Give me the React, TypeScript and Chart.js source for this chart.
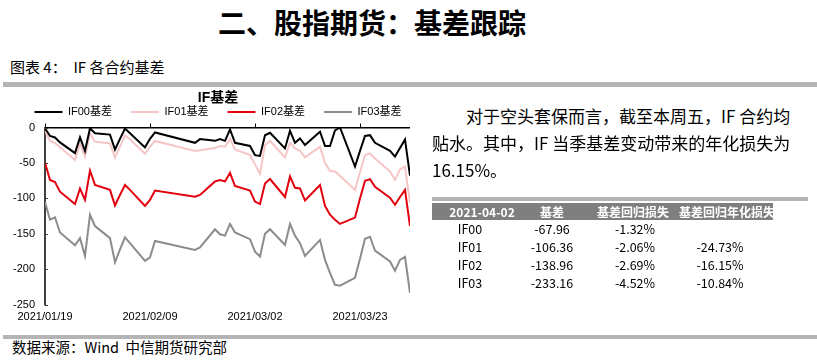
import React, { useEffect, useRef } from "react";
import { Chart, registerables } from "chart.js";

Chart.register(...registerables);

// ---------- data ----------
const DATES = [
  "2021/01/19", "2021/01/20", "2021/01/21", "2021/01/22", "2021/01/25", "2021/01/26", "2021/01/27", "2021/01/28", "2021/01/29",
  "2021/02/01", "2021/02/02", "2021/02/03", "2021/02/04", "2021/02/05", "2021/02/08", "2021/02/09", "2021/02/10",
  "2021/02/18", "2021/02/19", "2021/02/22", "2021/02/23", "2021/02/24", "2021/02/25", "2021/02/26",
  "2021/03/01", "2021/03/02", "2021/03/03", "2021/03/04", "2021/03/05",
  "2021/03/08", "2021/03/09", "2021/03/10", "2021/03/11", "2021/03/12",
  "2021/03/15", "2021/03/16", "2021/03/17", "2021/03/18", "2021/03/19",
  "2021/03/22", "2021/03/23", "2021/03/24", "2021/03/25", "2021/03/26",
  "2021/03/29", "2021/03/30", "2021/03/31",
  "2021/04/01", "2021/04/02",
];

const IF00 = [
  -1, -12, -14, -21, -36, -14, -33, -1, -8,
  -10, -31, -16, -1.5, -8, -28, -16, -7,
  -21.6, -16.4, -18.8, -16.4, -18.8, -2.8, -21.6,
  -26, -39, -40, -11, -7.5,
  -29.5, -4.7, -21.6, -15.5, -24.8,
  -6, -26, -26, -4, 0,
  -55, -33, -12, -10.8, -21.6,
  -33, -41, -29,
  -17, -67.96,
];

const IF01 = [
  -5, -19, -22, -28, -46, -23, -41, -8.5, -20,
  -22.5, -42, -27, -11, -17, -37, -27, -19,
  -33, -32, -29, -26, -27, -16, -31,
  -39, -52, -65.6, -25, -19,
  -42, -21.6, -29.5, -33, -42,
  -27, -50, -61, -62, -68,
  -88, -63, -39, -36.6, -43.6,
  -62, -74, -59,
  -55, -106.36,
];

const IF02 = [
  -49.5, -74, -77, -90.5, -108, -86, -102, -61, -81,
  -88, -110, -95, -81, -88, -110.6, -102, -89,
  -97.5, -95, -76, -74, -76, -64, -82.5,
  -89, -104.5, -108, -79, -72.7,
  -98, -69, -85, -86, -103,
  -81, -110.6, -123, -130, -136,
  -127, -100, -75, -73, -83.5,
  -99, -109, -98,
  -88, -138.96,
];

const IF03 = [
  -105, -130, -126.6, -148, -166, -156, -181, -123, -139,
  -156, -190, -172, -155, -163, -188, -183, -160,
  -172.6, -169, -143.5, -150.5, -152.5, -136, -148,
  -157.5, -175, -182, -150, -143.5,
  -165.5, -136, -152.5, -163, -181,
  -158.5, -186.6, -205, -221.8, -223,
  -212, -185, -157, -154, -173.6,
  -189, -202, -186.6,
  -182.5, -233.16,
];

const SERIES_NAMES = ["IF00基差", "IF01基差", "IF02基差", "IF03基差"];
const SERIES_COLORS = ["#000000", "#f6c6c6", "#e3000f", "#8c8c8c"];
const X_TICK_LABELS = ["2021/01/19", "2021/02/09", "2021/03/02", "2021/03/23"];
const Y_MIN = -250;
const Y_MAX = 0;
const Y_STEP = 50;

const CHART_TITLE = "IF基差";
const PAGE_TITLE = "二、股指期货：基差跟踪";
const FIG_TITLE = "图表 4：  IF 各合约基差";
const SOURCE = "数据来源：Wind  中信期货研究部";
const PARAGRAPH = [
  "对于空头套保而言，截至本周五，IF 合约均",
  "贴水。其中，IF 当季基差变动带来的年化损失为",
  "16.15%。",
];

const TABLE_HEAD = ["2021-04-02", "基差", "基差回归损失", "基差回归年化损失"];
const TABLE_CONTRACTS = ["IF00", "IF01", "IF02", "IF03"];
const TABLE_BASIS = ["-67.96", "-106.36", "-138.96", "-233.16"];
const TABLE_LOSS = ["-1.32%", "-2.06%", "-2.69%", "-4.52%"];
const TABLE_ANNUAL = ["", "-24.73%", "-16.15%", "-10.84%"];

// ---------- helpers ----------
const toUTC = (s: string) => {
  const [y, m, d] = s.split("/").map(Number);
  return Date.UTC(y, m - 1, d);
};
const BASE = toUTC(DATES[0]);
const toDay = (s: string) => (toUTC(s) - BASE) / 86400000;

const FONT_LATIN = '"Liberation Sans", Arial, "Noto Sans CJK SC", sans-serif';
const FONT_CJK = '"Noto Sans CJK SC", "Liberation Sans", sans-serif';

const CANVAS_W = 436;

const tickMarks = {
  id: "tickMarks",
  afterDraw(chart: any) {
    const { ctx, chartArea, scales } = chart;
    const x = scales.x;
    const y = scales.y;
    ctx.save();
    ctx.strokeStyle = "#000";
    ctx.lineWidth = 1;
    x.ticks.forEach((t: any) => {
      const px = Math.round(x.getPixelForValue(t.value)) + 0.5;
      ctx.beginPath();
      ctx.moveTo(px, chartArea.top - 4);
      ctx.lineTo(px, chartArea.top);
      ctx.stroke();
    });
    ctx.strokeStyle = "#404040";
    y.ticks.forEach((t: any) => {
      const py = Math.round(y.getPixelForValue(t.value)) + 0.5;
      ctx.beginPath();
      ctx.moveTo(chartArea.left, py);
      ctx.lineTo(chartArea.left + 3, py);
      ctx.stroke();
    });
    ctx.restore();
  },
};

function BasisChart() {
  const ref = useRef<HTMLCanvasElement | null>(null);
  useEffect(() => {
    if (!ref.current) return;
    const series = [IF00, IF01, IF02, IF03];
    const xs = DATES.map(toDay);
    const tickValues = X_TICK_LABELS.map(toDay);
    const chart = new Chart(ref.current, {
      type: "line",
      data: {
        datasets: series.map((vals, i) => ({
          label: SERIES_NAMES[i],
          data: vals.map((v, j) => ({ x: xs[j], y: v })),
          borderColor: SERIES_COLORS[i],
          backgroundColor: SERIES_COLORS[i],
          borderWidth: 2,
          pointRadius: 0,
          tension: 0,
          fill: false,
          yAxisID: "y",
        })),
      },
      options: {
        animation: false,
        responsive: false,
        devicePixelRatio: 1,
        layout: { padding: 0 },
        plugins: {
          title: {
            display: true,
            text: CHART_TITLE,
            color: "#000",
            font: { family: FONT_LATIN, size: 14, weight: "bold" },
            padding: { top: 4.3, bottom: -18.6 },
          },
          legend: {
            display: true,
            position: "top",
            labels: {
              usePointStyle: true,
              pointStyle: "line",
              pointStyleWidth: 28,
              padding: 19,
              color: "#000",
              font: { family: FONT_LATIN, size: 11 },
            },
          },
          tooltip: { enabled: false },
        },
        scales: {
          x: {
            type: "linear",
            min: 0,
            max: toDay(DATES[DATES.length - 1]),
            grid: { display: false, drawTicks: false },
            border: { display: false },
            afterBuildTicks: (scale: any) => {
              scale.ticks = tickValues.map((v) => ({ value: v }));
            },
            ticks: {
              padding: 6,
              maxRotation: 0,
              autoSkip: false,
              color: "#000",
              font: { family: FONT_LATIN, size: 11 },
              callback: (value: any) => {
                const idx = tickValues.indexOf(Number(value));
                return idx >= 0 ? X_TICK_LABELS[idx] : "";
              },
            },
          },
          y: {
            type: "linear",
            position: "left",
            min: Y_MIN,
            max: Y_MAX,
            afterFit: (scale: any) => {
              scale.width = 45;
            },
            grid: {
              drawTicks: false,
              color: (c: any) => (c.tick && c.tick.value === 0 ? "#000" : "rgba(0,0,0,0)"),
              lineWidth: 1.5,
            },
            border: { display: true, color: "#404040", width: 2 },
            ticks: {
              stepSize: Y_STEP,
              padding: 10,
              color: "#000",
              font: { family: FONT_LATIN, size: 11 },
            },
          },
          spacer: {
            type: "linear",
            position: "right",
            display: true,
            grid: { display: false, drawTicks: false, drawOnChartArea: false },
            border: { display: false },
            ticks: { display: false },
            afterFit: (scale: any) => {
              scale.width = CANVAS_W - 410;
            },
          },
        },
      },
      plugins: [tickMarks],
    } as any);
    return () => chart.destroy();
  }, []);
  return (
    <canvas
      ref={ref}
      width={CANVAS_W}
      height={245}
      style={{ position: "absolute", left: 0, top: 85, width: CANVAS_W, height: 245 }}
    />
  );
}

const abs = (o: React.CSSProperties): React.CSSProperties => ({ position: "absolute", ...o });

export default function App() {
  const colCenters = [482, 552, 633, 727];
  const rowCenters = [229, 247, 265, 283];
  const rows = TABLE_CONTRACTS.map((c, i) => [c, TABLE_BASIS[i], TABLE_LOSS[i], TABLE_ANNUAL[i]]);
  const dataCenters = [470, 552, 635, 720];
  return (
    <div
      style={{
        position: "absolute",
        left: 0,
        top: 0,
        width: 817,
        height: 360,
        background: "#fff",
        overflow: "hidden",
        fontFamily: FONT_CJK,
        color: "#000",
      }}
    >
      <div style={abs({ left: 218, top: 0, height: 44, lineHeight: "44px", fontSize: 28, fontWeight: 700, whiteSpace: "nowrap" })}>
        {PAGE_TITLE}
      </div>
      <div style={abs({ left: 10, top: 57, height: 20, lineHeight: "20px", fontSize: 15, whiteSpace: "pre" })}>{FIG_TITLE}</div>
      <div style={abs({ left: 3, top: 82, width: 814, height: 5, background: "#b4b4b4" })} />

      <BasisChart />

      {PARAGRAPH.map((line, i) => (
        <div
          key={i}
          style={abs({
            left: i === 0 ? 466 : 432,
            top: [116, 143, 170][i] - 14,
            height: 28,
            lineHeight: "28px",
            fontSize: 17,
            whiteSpace: "pre",
          })}
        >
          {line}
        </div>
      ))}

      <div style={abs({ left: 432, top: 197, width: 376, height: 4, background: "#b4b4b4" })} />
      <div style={abs({ left: 432, top: 203, width: 341, height: 17, background: "#7f7f7f" })} />
      {TABLE_HEAD.map((h, i) => (
        <div
          key={h}
          style={abs({
            left: colCenters[i] - 60,
            width: 120,
            top: 203,
            height: 17,
            lineHeight: "17px",
            textAlign: "center",
            fontSize: 12,
            fontWeight: 700,
            color: "#fff",
            whiteSpace: "nowrap",
          })}
        >
          {h}
        </div>
      ))}
      {rows.map((r, ri) =>
        r.map((cell, ci) => (
          <div
            key={ri + "-" + ci}
            style={abs({
              left: dataCenters[ci] - 50,
              width: 100,
              top: rowCenters[ri] - 9,
              height: 18,
              lineHeight: "18px",
              textAlign: "center",
              fontSize: 12.5,
              whiteSpace: "nowrap",
            })}
          >
            {cell}
          </div>
        ))
      )}

      <div style={abs({ left: 3, top: 335, width: 814, height: 4, background: "#b4b4b4" })} />
      <div style={abs({ left: 12, top: 337, height: 20, lineHeight: "20px", fontSize: 14.5, whiteSpace: "pre" })}>{SOURCE}</div>
    </div>
  );
}
